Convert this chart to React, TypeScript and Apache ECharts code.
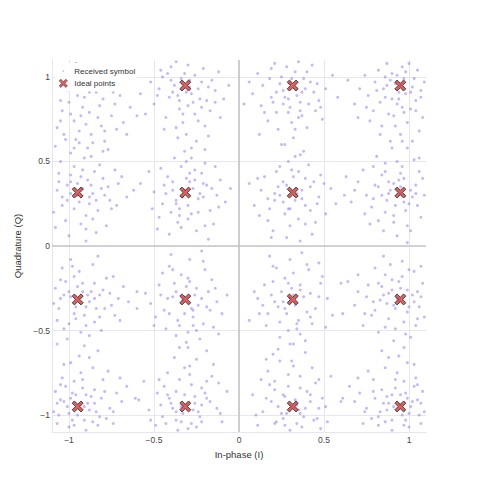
import React, { useEffect, useRef } from "react";
import * as echarts from "echarts";

const idealLevels = [-0.949, -0.316, 0.316, 0.949];

const receivedTop: number[][] = [
  [-1.05,0.86],[-0.88,0.91],[-0.82,0.83],[-0.99,0.78],[-0.90,0.72],[-1.07,0.70],[-0.78,0.94],[-0.93,1.04],[-0.85,1.06],[-1.02,1.01],
  [-0.75,0.77],[-0.96,0.63],[-1.08,0.59],[-0.87,0.66],[-0.70,0.89],[-0.81,0.71],[-0.92,0.82],[-1.01,0.92],[-0.86,0.98],[-0.76,1.03],
  [-0.97,0.74],[-0.64,0.82],[-0.89,0.58],[-0.79,0.62],[-1.04,0.80],[-0.91,0.88],[-0.83,0.76],[-0.72,0.69],[-0.98,0.97],[-1.06,0.96],
  [-0.94,0.68],[-0.87,0.53],[-0.68,0.73],[-0.80,0.87],[-0.93,0.77],[-1.03,0.66],[-0.77,0.57],[-0.62,0.95],[-0.84,0.91],[-0.96,1.08],
  [-0.32,1.02],[-0.28,0.90],[-0.41,0.88],[-0.22,0.97],[-0.35,0.81],[-0.19,0.86],[-0.45,1.00],[-0.30,1.07],[-0.26,0.78],[-0.38,0.95],
  [-0.14,0.92],[-0.50,0.84],[-0.33,0.73],[-0.21,1.05],[-0.43,0.76],[-0.29,0.98],[-0.17,0.80],[-0.36,0.89],[-0.24,0.93],[-0.47,0.93],
  [-0.12,1.03],[-0.31,0.66],[-0.40,1.06],[-0.27,0.85],[-0.20,0.71],[-0.52,0.97],[-0.34,0.99],[-0.09,0.87],[-0.44,0.69],[-0.25,0.62],
  [-0.37,1.09],[-0.16,0.98],[-0.30,0.83],[-0.55,0.78],[-0.23,0.87],[-0.39,0.91],[-0.18,0.65],[-0.28,0.58],[-0.46,1.04],[-0.11,0.76],
  [0.25,1.00],[0.37,0.91],[0.19,0.88],[0.30,0.82],[0.42,0.97],[0.28,1.06],[0.14,0.95],[0.35,0.76],[0.47,0.86],[0.22,0.79],
  [0.33,1.03],[0.40,0.70],[0.11,1.02],[0.26,0.92],[0.51,0.93],[0.17,0.74],[0.38,0.99],[0.29,0.87],[0.45,0.80],[0.08,0.90],
  [0.32,0.64],[0.21,1.08],[0.55,1.01],[0.36,0.85],[0.24,0.96],[0.43,1.07],[0.13,0.83],[0.31,0.73],[0.49,0.75],[0.27,0.60],
  [0.39,0.93],[0.18,0.99],[0.34,0.89],[0.23,0.69],[0.46,0.96],[0.06,0.97],[0.29,0.79],[0.41,0.84],[0.20,0.85],[0.35,1.09],
  [0.90,1.02],[0.98,0.90],[0.85,0.93],[1.03,0.99],[0.93,0.84],[0.80,0.97],[1.07,0.88],[0.96,1.06],[0.88,0.78],[1.01,0.81],
  [0.76,0.89],[0.92,0.96],[1.05,1.04],[0.83,0.85],[0.99,0.73],[0.71,0.93],[0.95,0.66],[0.87,1.08],[1.08,0.76],[0.79,0.80],
  [0.94,0.91],[1.02,0.94],[0.84,0.71],[0.97,0.99],[0.74,1.01],[0.91,0.77],[1.06,0.68],[0.86,0.88],[1.00,1.08],[0.68,0.84],
  [0.96,0.82],[0.82,1.04],[0.89,0.62],[1.04,0.86],[0.77,0.74],[0.93,1.01],[0.99,0.58],[0.64,0.98],[0.87,0.95],[1.09,0.97],
];

const receivedUpper: number[][] = [
  [-0.99,0.38],[-0.88,0.29],[-1.04,0.24],[-0.93,0.41],[-0.81,0.34],[-1.07,0.33],[-0.90,0.18],[-0.76,0.27],[-0.97,0.47],[-0.85,0.44],
  [-1.02,0.15],[-0.71,0.37],[-0.94,0.26],[-0.83,0.21],[-1.06,0.43],[-0.87,0.36],[-0.78,0.12],[-0.99,0.31],[-0.91,0.52],[-0.66,0.29],
  [-1.09,0.20],[-0.84,0.08],[-0.95,0.37],[-0.73,0.45],[-1.00,0.06],[-0.88,0.25],[-0.80,0.40],[-0.62,0.33],[-0.93,0.13],[-1.05,0.50],
  [-0.86,0.31],[-0.75,0.22],[-0.97,0.58],[-0.90,0.03],[-0.69,0.41],[-1.01,0.27],[-0.82,0.48],[-0.92,0.34],[-1.08,0.11],[-0.79,0.30],
  [-0.31,0.40],[-0.24,0.28],[-0.39,0.33],[-0.28,0.19],[-0.19,0.36],[-0.45,0.25],[-0.34,0.47],[-0.22,0.43],[-0.36,0.14],[-0.13,0.30],
  [-0.42,0.41],[-0.27,0.34],[-0.50,0.32],[-0.30,0.24],[-0.17,0.21],[-0.38,0.52],[-0.25,0.09],[-0.11,0.39],[-0.47,0.17],[-0.33,0.29],
  [-0.20,0.49],[-0.41,0.07],[-0.29,0.38],[-0.15,0.13],[-0.53,0.44],[-0.35,0.22],[-0.23,0.31],[-0.08,0.26],[-0.44,0.36],[-0.32,0.56],
  [-0.18,0.04],[-0.37,0.27],[-0.26,0.45],[-0.48,0.10],[-0.14,0.47],[-0.30,0.16],[-0.40,0.20],[-0.21,0.37],[-0.05,0.34],[-0.34,0.11],
  [0.32,0.41],[0.24,0.30],[0.39,0.24],[0.28,0.36],[0.18,0.22],[0.44,0.38],[0.35,0.16],[0.22,0.44],[0.47,0.29],[0.30,0.12],
  [0.13,0.33],[0.41,0.48],[0.26,0.26],[0.37,0.33],[0.20,0.09],[0.51,0.19],[0.29,0.50],[0.15,0.41],[0.43,0.07],[0.33,0.27],
  [0.09,0.24],[0.38,0.56],[0.27,0.19],[0.48,0.42],[0.23,0.35],[0.36,0.03],[0.54,0.34],[0.17,0.15],[0.31,0.45],[0.42,0.21],
  [0.25,0.60],[0.06,0.37],[0.34,0.31],[0.45,0.14],[0.21,0.27],[0.39,0.40],[0.12,0.18],[0.30,0.22],[0.57,0.25],[0.28,0.05],
  [0.94,0.39],[0.87,0.27],[1.01,0.33],[0.91,0.18],[0.80,0.36],[1.05,0.24],[0.96,0.47],[0.84,0.42],[0.99,0.12],[0.75,0.30],
  [1.08,0.40],[0.89,0.33],[0.97,0.26],[0.82,0.15],[1.03,0.51],[0.70,0.38],[0.93,0.06],[0.86,0.49],[1.07,0.17],[0.78,0.23],
  [0.95,0.35],[0.90,0.58],[1.02,0.29],[0.73,0.45],[0.85,0.09],[0.98,0.21],[0.66,0.26],[1.06,0.44],[0.88,0.31],[0.81,0.53],
  [0.99,0.02],[0.92,0.24],[0.77,0.13],[1.04,0.36],[0.63,0.41],[0.95,0.43],[0.86,0.20],[1.09,0.30],[0.79,0.47],[0.91,0.37],
];

const receivedLower: number[][] = [
  [-0.95,-0.24],[-0.88,-0.33],[-1.03,-0.29],[-0.91,-0.41],[-0.80,-0.26],[-1.06,-0.37],[-0.97,-0.18],[-0.85,-0.22],[-1.00,-0.46],[-0.75,-0.35],
  [-1.08,-0.25],[-0.89,-0.29],[-0.93,-0.51],[-0.82,-0.42],[-1.04,-0.13],[-0.71,-0.31],[-0.96,-0.36],[-0.86,-0.11],[-1.01,-0.55],[-0.78,-0.19],
  [-0.92,-0.27],[-1.07,-0.44],[-0.84,-0.37],[-0.99,-0.08],[-0.68,-0.24],[-0.90,-0.47],[-1.05,-0.31],[-0.81,-0.50],[-0.94,-0.15],[-0.73,-0.41],
  [-0.87,-0.27],[-1.02,-0.21],[-0.65,-0.33],[-0.97,-0.40],[-0.83,-0.06],[-1.09,-0.34],[-0.91,-0.59],[-0.76,-0.28],[-0.99,-0.30],[-0.85,-0.45],
  [-0.31,-0.24],[-0.24,-0.35],[-0.39,-0.30],[-0.27,-0.42],[-0.18,-0.27],[-0.44,-0.38],[-0.34,-0.17],[-0.21,-0.46],[-0.47,-0.23],[-0.30,-0.51],
  [-0.13,-0.33],[-0.41,-0.12],[-0.26,-0.29],[-0.36,-0.44],[-0.16,-0.20],[-0.52,-0.34],[-0.29,-0.08],[-0.23,-0.55],[-0.43,-0.49],[-0.33,-0.32],
  [-0.10,-0.40],[-0.38,-0.22],[-0.20,-0.14],[-0.49,-0.42],[-0.28,-0.37],[-0.35,-0.60],[-0.15,-0.48],[-0.40,-0.05],[-0.25,-0.25],[-0.55,-0.28],
  [-0.32,-0.40],[-0.19,-0.36],[-0.45,-0.16],[-0.07,-0.29],[-0.37,-0.53],[-0.22,-0.03],[-0.30,-0.19],[-0.42,-0.31],[-0.12,-0.52],[-0.27,-0.47],
  [0.31,-0.25],[0.23,-0.36],[0.38,-0.30],[0.27,-0.19],[0.19,-0.29],[0.45,-0.37],[0.35,-0.44],[0.22,-0.13],[0.48,-0.22],[0.29,-0.50],
  [0.12,-0.40],[0.41,-0.14],[0.26,-0.33],[0.36,-0.23],[0.16,-0.47],[0.52,-0.31],[0.30,-0.08],[0.24,-0.54],[0.43,-0.46],[0.33,-0.35],
  [0.09,-0.27],[0.39,-0.56],[0.20,-0.21],[0.47,-0.10],[0.28,-0.40],[0.37,-0.04],[0.14,-0.35],[0.55,-0.41],[0.25,-0.27],[0.34,-0.49],
  [0.18,-0.06],[0.42,-0.28],[0.32,-0.16],[0.06,-0.44],[0.40,-0.39],[0.23,-0.61],[0.49,-0.18],[0.30,-0.31],[0.15,-0.23],[0.36,-0.52],
  [0.95,-0.25],[0.87,-0.34],[1.02,-0.29],[0.90,-0.20],[0.80,-0.38],[1.06,-0.36],[0.97,-0.45],[0.84,-0.24],[1.00,-0.14],[0.75,-0.30],
  [1.08,-0.22],[0.88,-0.43],[0.93,-0.31],[0.82,-0.51],[1.04,-0.47],[0.70,-0.27],[0.96,-0.09],[0.86,-0.17],[1.01,-0.54],[0.78,-0.41],
  [0.92,-0.37],[1.07,-0.12],[0.83,-0.32],[0.99,-0.39],[0.68,-0.35],[0.91,-0.56],[1.05,-0.27],[0.80,-0.13],[0.94,-0.21],[0.73,-0.47],
  [0.88,-0.28],[1.03,-0.33],[0.64,-0.21],[0.97,-0.60],[0.85,-0.06],[1.09,-0.42],[0.91,-0.35],[0.76,-0.23],[0.99,-0.26],[0.86,-0.48],
];

const receivedBottom: number[][] = [
  [-0.96,-0.88],[-0.88,-0.97],[-1.03,-0.92],[-0.91,-1.03],[-0.81,-0.90],[-1.06,-1.00],[-0.97,-0.80],[-0.85,-0.85],[-1.00,-1.07],[-0.76,-0.96],
  [-1.08,-0.86],[-0.89,-0.93],[-0.93,-0.75],[-0.83,-1.06],[-1.04,-0.78],[-0.72,-0.87],[-0.95,-1.00],[-0.86,-0.72],[-1.01,-0.95],[-0.78,-1.02],
  [-0.92,-0.84],[-1.07,-1.05],[-0.84,-0.98],[-0.99,-0.69],[-0.69,-0.92],[-0.90,-1.09],[-1.05,-0.91],[-0.80,-0.79],[-0.94,-0.65],[-0.74,-1.05],
  [-0.87,-0.89],[-1.02,-0.83],[-0.66,-0.83],[-0.98,-1.03],[-0.83,-0.62],[-1.09,-0.98],[-0.91,-0.95],[-0.77,-0.74],[-0.99,-0.90],[-0.86,-1.04],
  [-0.32,-0.88],[-0.24,-0.98],[-0.40,-0.93],[-0.28,-1.05],[-0.19,-0.90],[-0.45,-1.01],[-0.35,-0.79],[-0.22,-0.84],[-0.48,-0.87],[-0.30,-1.08],
  [-0.13,-0.96],[-0.42,-0.75],[-0.26,-0.93],[-0.37,-1.03],[-0.16,-0.77],[-0.53,-0.97],[-0.29,-0.71],[-0.23,-1.01],[-0.44,-0.83],[-0.34,-0.95],
  [-0.10,-1.04],[-0.38,-0.66],[-0.20,-0.87],[-0.49,-1.06],[-0.28,-0.82],[-0.36,-1.09],[-0.15,-0.70],[-0.41,-0.90],[-0.25,-1.07],[-0.56,-0.80],
  [-0.33,-0.99],[-0.19,-0.62],[-0.46,-0.94],[-0.07,-0.86],[-0.37,-0.86],[-0.22,-0.94],[-0.30,-0.60],[-0.43,-1.05],[-0.12,-0.81],[-0.27,-0.97],
  [0.33,-0.91],[0.25,-0.99],[0.40,-0.86],[0.27,-1.06],[0.19,-0.92],[0.46,-1.02],[0.36,-0.77],[0.21,-0.80],[0.49,-0.90],[0.30,-1.09],
  [0.14,-0.98],[0.43,-0.72],[0.27,-0.89],[0.38,-1.01],[0.17,-0.74],[0.51,-0.95],[0.31,-0.68],[0.22,-1.04],[0.45,-0.81],[0.35,-0.97],
  [0.11,-1.06],[0.39,-0.63],[0.21,-0.85],[0.48,-1.08],[0.29,-0.83],[0.37,-1.07],[0.16,-0.67],[0.42,-0.88],[0.26,-1.02],[0.54,-0.77],
  [0.34,-0.94],[0.20,-0.64],[0.47,-0.96],[0.08,-0.88],[0.36,-0.84],[0.23,-0.95],[0.32,-0.58],[0.44,-1.03],[0.13,-0.79],[0.28,-0.99],
  [0.95,-0.88],[0.87,-0.97],[1.02,-0.92],[0.90,-1.03],[0.80,-0.90],[1.06,-1.00],[0.97,-0.80],[0.84,-0.85],[1.00,-1.07],[0.75,-0.96],
  [1.08,-0.86],[0.88,-0.93],[0.93,-0.75],[0.82,-1.06],[1.04,-0.78],[0.71,-0.87],[0.96,-1.00],[0.86,-0.72],[1.01,-0.95],[0.78,-1.02],
  [0.92,-0.84],[1.07,-1.05],[0.83,-0.98],[0.99,-0.69],[0.68,-0.92],[0.90,-1.09],[1.05,-0.91],[0.79,-0.79],[0.94,-0.65],[0.73,-1.05],
  [0.87,-0.89],[1.03,-0.83],[0.65,-0.83],[0.98,-1.03],[0.84,-0.62],[1.09,-0.98],[0.91,-0.95],[0.76,-0.74],[0.99,-0.90],[0.86,-1.04],
];

const receivedExtra: number[][] = [
  [-1.00,0.85],[-0.90,0.98],[-0.73,0.84],[-1.05,0.74],[-0.86,0.61],[-0.95,0.89],[-0.66,0.66],[-0.82,1.00],[-0.99,0.55],[-0.74,0.91],[-0.88,0.79],[-1.02,0.63],[-0.60,0.77],[-0.93,0.93],[-0.79,0.68],
  [-0.29,0.94],[-0.35,0.86],[-0.22,0.82],[-0.40,0.98],[-0.26,1.01],[-0.33,0.78],[-0.18,0.94],[-0.48,0.89],[-0.31,0.91],[-0.24,0.74],[-0.37,0.70],[-0.14,0.85],[-0.42,1.02],[-0.06,0.95],[-0.58,0.90],[-0.20,0.57],[-0.28,0.52],
  [0.30,0.96],[0.26,0.84],[0.36,0.80],[0.40,1.03],[0.22,0.91],[0.33,0.69],[0.44,0.91],[0.15,0.79],[0.31,0.99],[0.48,0.82],[0.19,1.05],[0.37,0.77],[0.27,0.88],[0.58,0.88],[0.03,0.84],[0.36,0.54],[0.12,0.66],
  [0.95,0.95],[0.90,0.87],[1.01,0.91],[0.86,1.00],[0.97,0.79],[0.81,0.92],[1.04,0.80],[0.92,0.71],[0.75,0.82],[0.98,1.03],[0.89,0.98],[1.07,0.92],[0.83,0.66],[0.94,0.87],[0.70,0.76],[1.02,0.62],
  [-0.95,0.30],[-0.89,0.39],[-1.01,0.36],[-0.84,0.27],[-0.97,0.22],[-0.77,0.35],[-1.04,0.29],[-0.92,0.45],[-0.86,0.16],[-0.72,0.24],[-0.99,0.42],[-0.80,0.56],[-1.06,0.38],[-0.90,0.10],[-0.58,0.37],[-0.94,0.61],
  [-0.32,0.33],[-0.26,0.39],[-0.37,0.25],[-0.21,0.29],[-0.43,0.31],[-0.29,0.43],[-0.35,0.18],[-0.16,0.34],[-0.46,0.46],[-0.24,0.20],[-0.39,0.38],[-0.12,0.23],[-0.31,0.50],[-0.51,0.22],[-0.20,0.12],[-0.36,0.64],
  [0.31,0.32],[0.26,0.38],[0.37,0.28],[0.21,0.31],[0.42,0.35],[0.29,0.22],[0.35,0.44],[0.17,0.28],[0.46,0.25],[0.24,0.47],[0.39,0.13],[0.11,0.40],[0.33,0.53],[0.50,0.37],[0.19,0.05],[0.62,0.30],
  [0.95,0.31],[0.88,0.38],[1.00,0.25],[0.84,0.30],[0.97,0.40],[0.79,0.28],[1.04,0.31],[0.91,0.14],[0.86,0.44],[1.06,0.52],[0.74,0.19],[0.93,0.50],[0.82,0.35],[1.01,0.09],[0.68,0.33],[0.96,0.62],
  [-0.94,-0.31],[-0.90,-0.36],[-1.00,-0.27],[-0.85,-0.31],[-0.96,-0.43],[-0.79,-0.37],[-1.05,-0.20],[-0.92,-0.22],[-0.82,-0.29],[-1.03,-0.49],[-0.74,-0.18],[-0.88,-0.53],[-0.98,-0.12],[-0.70,-0.44],[-1.07,-0.58],[-0.60,-0.27],
  [-0.32,-0.30],[-0.27,-0.38],[-0.37,-0.27],[-0.22,-0.31],[-0.41,-0.40],[-0.29,-0.21],[-0.35,-0.47],[-0.17,-0.38],[-0.46,-0.29],[-0.25,-0.50],[-0.39,-0.14],[-0.14,-0.25],[-0.31,-0.57],[-0.50,-0.47],[-0.21,-0.09],[-0.60,-0.37],
  [0.32,-0.29],[0.27,-0.37],[0.36,-0.26],[0.21,-0.33],[0.42,-0.42],[0.29,-0.22],[0.34,-0.46],[0.17,-0.40],[0.47,-0.30],[0.24,-0.45],[0.40,-0.11],[0.11,-0.31],[0.30,-0.58],[0.51,-0.48],[0.20,-0.12],[0.60,-0.22],
  [0.94,-0.32],[0.90,-0.26],[1.00,-0.36],[0.85,-0.29],[0.96,-0.18],[0.79,-0.33],[1.05,-0.43],[0.92,-0.49],[0.82,-0.22],[1.03,-0.15],[0.74,-0.40],[0.89,-0.11],[0.98,-0.52],[0.70,-0.17],[1.07,-0.30],[0.61,-0.40],
  [-0.94,-0.94],[-0.90,-0.88],[-1.00,-0.99],[-0.85,-0.93],[-0.97,-1.06],[-0.79,-0.86],[-1.05,-0.82],[-0.92,-0.79],[-0.82,-1.01],[-1.03,-0.70],[-0.74,-0.98],[-0.88,-0.66],[-0.98,-0.87],[-0.70,-0.78],[-1.07,-0.93],[-0.61,-0.90],
  [-0.31,-0.94],[-0.26,-0.89],[-0.37,-0.98],[-0.22,-1.04],[-0.42,-0.88],[-0.29,-0.76],[-0.34,-1.04],[-0.17,-0.92],[-0.47,-0.79],[-0.25,-0.67],[-0.39,-0.96],[-0.11,-0.99],[-0.32,-0.72],[-0.52,-1.03],[-0.19,-0.80],[-0.59,-0.91],
  [0.31,-0.95],[0.26,-0.88],[0.36,-0.99],[0.21,-1.05],[0.42,-0.92],[0.29,-0.76],[0.34,-1.05],[0.16,-0.90],[0.47,-0.79],[0.24,-0.68],[0.39,-0.96],[0.10,-1.00],[0.32,-0.71],[0.52,-1.04],[0.18,-0.82],[0.60,-0.92],
  [0.95,-0.94],[0.90,-0.88],[1.00,-0.99],[0.85,-0.93],[0.97,-1.06],[0.79,-0.86],[1.05,-0.82],[0.92,-0.79],[0.82,-1.01],[1.03,-0.70],[0.74,-0.98],[0.88,-0.66],[0.98,-0.87],[0.70,-0.78],[1.07,-0.93],[0.61,-0.90],
];

const received = [...receivedTop, ...receivedUpper, ...receivedLower, ...receivedBottom, ...receivedExtra];
const ideal: number[][] = [];
for (const q of idealLevels) for (const i of idealLevels) ideal.push([i, q]);

const X_PATH = "path://M0,2 L2,0 L5,3 L8,0 L10,2 L7,5 L10,8 L8,10 L5,7 L2,10 L0,8 L3,5 Z";
const X_LEGEND = "path://M-1,-1 M11,11 M0,2 L2,0 L5,3 L8,0 L10,2 L7,5 L10,8 L8,10 L5,7 L2,10 L0,8 L3,5 Z";
const DOT_PATH = "path://M0,0 M16,16 M6.5,8 A1.5,1.5 0 1 1 9.5,8 A1.5,1.5 0 1 1 6.5,8 Z";
const FONT = "'Liberation Sans', Arial, sans-serif";

const fmt = (v: number) => {
  const s = Number(v.toFixed(2)).toString();
  return s.startsWith("-") ? "\u2212" + s.slice(1) : s;
};

export default function App() {
  const ref = useRef<HTMLDivElement>(null);
  useEffect(() => {
    if (!ref.current) return;
    const chart = echarts.init(ref.current, undefined, { renderer: "svg" });
    const axisCommon = {
      type: "value" as const,
      min: -1.1,
      max: 1.1,
      axisLine: { show: true, onZero: false, lineStyle: { color: "#e6e6ef", width: 1 } },
      axisTick: { show: false },
      splitLine: { show: true, showMinLine: false, showMaxLine: false, lineStyle: { color: "#e6e6ef", width: 1 } },
      axisLabel: {
        color: "#444",
        fontSize: 8.5,
        fontFamily: FONT,
        showMinLabel: false,
        showMaxLabel: false,
        formatter: fmt,
      },
      nameLocation: "middle" as const,
      nameMoveOverlap: false,
      nameTextStyle: { color: "#333", fontSize: 9.5, fontFamily: FONT },
    };
    const legendText = { color: "#333", fontSize: 8, fontFamily: FONT, width: 62, overflow: "truncate", ellipsis: "" };
    chart.setOption({
      animation: false,
      backgroundColor: "#fff",
      grid: { left: 52, right: 54, top: 60, bottom: 48, containLabel: false, outerBoundsMode: "none" },
      xAxis: { ...axisCommon, name: "In-phase (I)", nameGap: 17, axisLabel: { ...axisCommon.axisLabel, margin: 3 } },
      yAxis: { ...axisCommon, name: "Quadrature (Q)", nameGap: 30, axisLabel: { ...axisCommon.axisLabel, margin: 2 } },
      legend: {
        left: 55,
        top: 63,
        orient: "vertical",
        itemGap: 2,
        itemWidth: 12,
        itemHeight: 10,
        padding: [3, 2, 3, 3],
        backgroundColor: "#fff",
        textStyle: legendText,
        data: [
          { name: "Received symbols", icon: DOT_PATH, itemStyle: { color: "rgba(125,95,235,0.45)" }, textStyle: legendText },
          { name: "Ideal points", icon: X_LEGEND, itemStyle: { color: "#cf3a3a", borderColor: "#2b2b2b", borderWidth: 0.6 }, textStyle: legendText },
        ],
      },
      series: [
        {
          name: "Received symbols",
          type: "scatter",
          data: received,
          symbol: "circle",
          symbolSize: 3,
          itemStyle: { color: "rgba(125,95,235,0.55)" },
          clip: true,
          silent: true,
          z: 2,
          markLine: {
            silent: true,
            symbol: "none",
            label: { show: false },
            lineStyle: { color: "#c4c4c8", width: 1.6, type: "solid" },
            data: [{ xAxis: 0 }, { yAxis: 0 }],
            z: 1,
          },
        },
        {
          name: "Ideal points",
          type: "scatter",
          data: ideal,
          symbol: X_PATH,
          symbolSize: 11,
          itemStyle: { color: "#cf3a3a", borderColor: "#2b2b2b", borderWidth: 1 },
          z: 3,
        },
      ],
    });
    return () => chart.dispose();
  }, []);
  return <div ref={ref} style={{ width: 480, height: 480, margin: -8 }} />;
}
